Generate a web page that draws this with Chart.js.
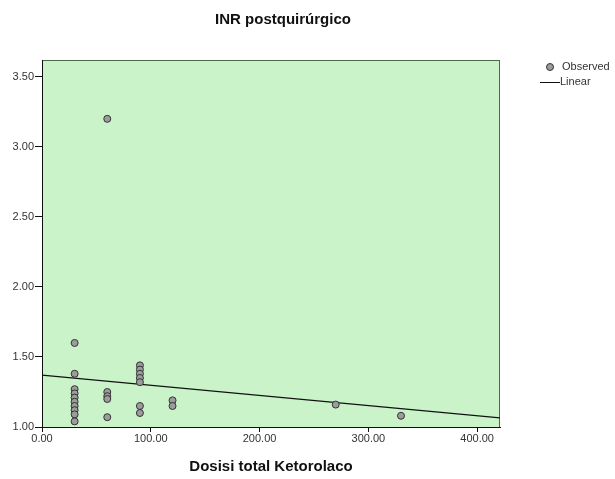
<!DOCTYPE html>
<html>
<head>
<meta charset="utf-8">
<script src="https://cdn.jsdelivr.net/npm/chart.js@4/dist/chart.umd.min.js"></script>
<style>
  body { margin: 0; background: #ffffff; }
  canvas { display: block; }
</style>
</head>
<body>
<canvas id="scatter-chart" width="615" height="479"></canvas>
<script>
// valores
const dosis = [30, 30, 30, 30, 30, 30, 30, 30, 30, 30,
               60, 60, 60, 60, 60,
               90, 90, 90, 90, 90, 90, 90,
               120, 120,
               270, 330];
const inr = [1.60, 1.38, 1.27, 1.24, 1.21, 1.18, 1.15, 1.12, 1.09, 1.04,
             3.20, 1.25, 1.22, 1.20, 1.07,
             1.44, 1.41, 1.38, 1.35, 1.32, 1.15, 1.10,
             1.19, 1.15,
             1.16, 1.08];
const lineaX = [0, 421];
const lineaY = [1.37, 1.065];
const xTicks = [0, 100, 200, 300, 400];
const yTicks = [1.0, 1.5, 2.0, 2.5, 3.0, 3.5];

const titulo = "INR postquirúrgico";
const tituloX = "Dosisi total Ketorolaco";
const leyenda = ["Observed", "Linear"];

const fondoVerde = {
  id: 'fondoVerde',
  beforeDraw(chart) {
    const { ctx, chartArea: a } = chart;
    ctx.save();
    ctx.fillStyle = '#caf3ca';
    ctx.fillRect(a.left, a.top, a.right - a.left, a.bottom - a.top);
    ctx.strokeStyle = '#4a6a4a';
    ctx.lineWidth = 1;
    ctx.strokeRect(a.left + 0.5, a.top + 0.5, a.right - a.left - 1, a.bottom - a.top);
    ctx.restore();
  },
  afterDraw(chart) {
    const ctx = chart.ctx;
    ctx.save();
    // titulo
    ctx.fillStyle = '#111';
    ctx.font = 'bold 15px "Liberation Sans", Arial, sans-serif';
    ctx.textAlign = 'center';
    ctx.textBaseline = 'middle';
    ctx.fillText(titulo, 283, 20);
    // leyenda
    ctx.font = '11px "Liberation Sans", Arial, sans-serif';
    ctx.textAlign = 'left';
    ctx.fillStyle = '#333';
    ctx.beginPath();
    ctx.arc(550, 67, 3.5, 0, Math.PI * 2);
    ctx.fillStyle = '#9c9c9c';
    ctx.fill();
    ctx.strokeStyle = '#333';
    ctx.stroke();
    ctx.fillStyle = '#333';
    ctx.fillText(leyenda[0], 562, 67);
    ctx.beginPath();
    ctx.moveTo(540, 82.5);
    ctx.lineTo(560, 82.5);
    ctx.strokeStyle = '#111';
    ctx.stroke();
    ctx.fillText(leyenda[1], 560, 82);
    ctx.restore();
  }
};

const puntos = dosis.map((d, i) => ({ x: d, y: inr[i] }));
const linea = lineaX.map((d, i) => ({ x: d, y: lineaY[i] }));

var config = {
  type: 'scatter',
  data: {
    datasets: [
      {
        label: leyenda[0],
        data: puntos,
        pointRadius: 3.5,
        pointHoverRadius: 3.5,
        backgroundColor: '#9c9c9c',
        borderColor: '#333',
        borderWidth: 1,
      },
      {
        label: leyenda[1],
        type: 'line',
        data: linea,
        borderColor: '#111',
        borderWidth: 1.2,
        pointRadius: 0,
        fill: false,
      },
    ],
  },
  options: {
    responsive: false,
    animation: false,
    layout: { padding: { top: 60, right: 115, left: 0, bottom: 0 } },
    plugins: {
      legend: { display: false },
      title: { display: false },
      tooltip: { enabled: false },
    },
    scales: {
      x: {
        type: 'linear',
        min: 0,
        max: 421,
        afterFit(s) { s.height = 52; },
        afterBuildTicks(s) { s.ticks = xTicks.map(v => ({ value: v })); },
        ticks: {
          callback: v => v.toFixed(2),
          font: { family: '"Liberation Sans", Arial, sans-serif', size: 11 },
          color: '#333',
          padding: 0,
          maxRotation: 0,
        },
        grid: { drawOnChartArea: false, tickLength: 5, color: '#111' },
        border: { display: true, color: '#111', width: 1 },
        title: {
          display: true,
          text: tituloX,
          font: { family: '"Liberation Sans", Arial, sans-serif', size: 15, weight: 'bold' },
          color: '#111',
          padding: { top: 0, bottom: 3 },
        },
      },
      y: {
        type: 'linear',
        min: 1,
        max: 3.62,
        afterFit(s) { s.width = 42; },
        afterBuildTicks(s) { s.ticks = yTicks.map(v => ({ value: v })); },
        ticks: {
          callback: v => v.toFixed(2),
          font: { family: '"Liberation Sans", Arial, sans-serif', size: 11 },
          color: '#333',
          padding: 1,
        },
        grid: { drawOnChartArea: false, tickLength: 7, color: '#111' },
        border: { display: true, color: '#111', width: 1 },
      },
    },
  },
  plugins: [fondoVerde],
};

var ctx = document.getElementById("scatter-chart").getContext("2d");
window.myScatter = new Chart(ctx, config);
</script>
</body>
</html>
